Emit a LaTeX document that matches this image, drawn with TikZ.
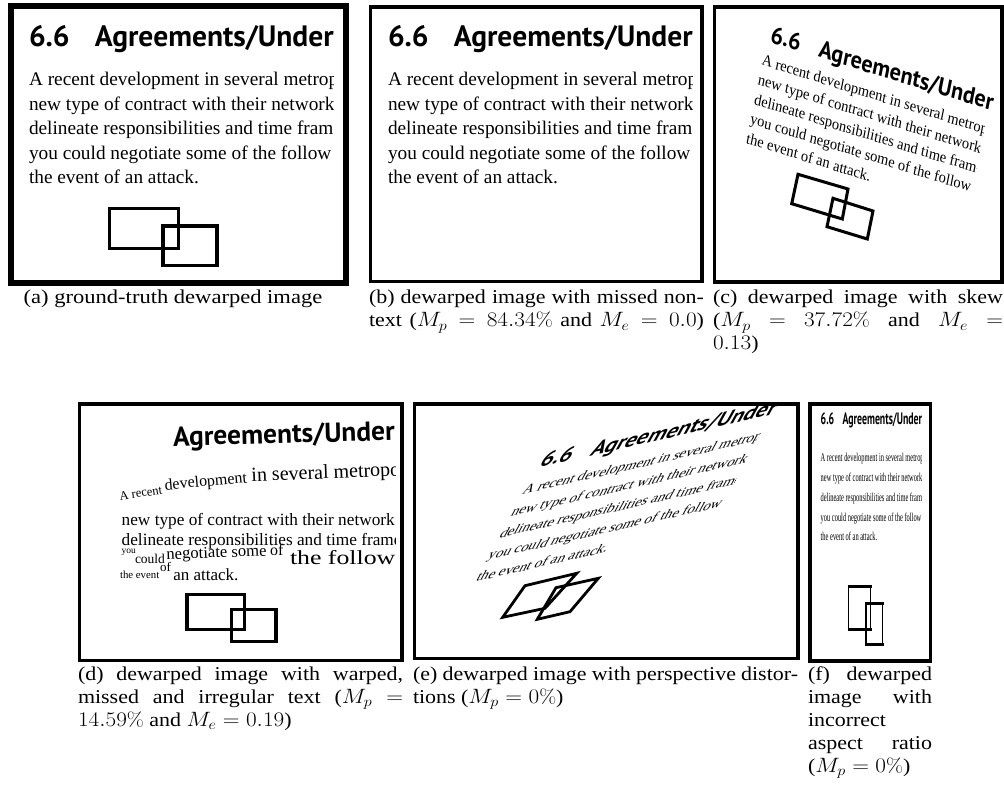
\documentclass[tikz,border=0pt]{standalone}
\usepackage{fontspec}
\newfontfamily\titlefont{PT Sans}
\newfontfamily\capfont{Liberation Serif}
\newfontfamily\bodyfont{Liberation Serif}
\newcommand\ttl{\titlefont\bfseries\fontsize{29.5}{32}\selectfont}
\newcommand\bdy{\bodyfont\fontsize{19.3}{22}\selectfont}
\newcommand\dbdy{\bodyfont\fontsize{17.25}{20}\selectfont}
\newcommand\dsz[1]{\bodyfont\fontsize{#1}{#1}\selectfont}
\newcommand\titleline{\makebox[66pt][l]{6.6}Agreements/Under}
\newlength\capw
\newcommand\capbox[2]{\setlength\capw{\dimexpr #1pt*100/112\relax}\scalebox{1.12}[1]{\parbox[t]{\capw}{\raggedright #2}}}
\newcommand\capln[1]{\makebox[\capw][s]{#1}}
\newcommand\bodylines[1]{%
  \node[txt] (#1l1) at (29,86) {\bdy A recent development in several metropo};
  \node[txt] (#1l2) at (29,110.5) {\bdy new type of contract with their network};
  \node[txt] (#1l3) at (29,135) {\bdy delineate responsibilities and time frame};
  \node[txt] (#1l4) at (29,159.5) {\bdy you could negotiate some of the follow};
  \node[txt] (#1l5) at (29,184) {\bdy the event of an attack.};}
\newcommand\eline[4]{%
  \begin{scope}[shift={(#2,#3)}, cm={0.77,0.175,0.40,0.72,(0,0)}, transform shape]
    \clip (-5,-30) rectangle (304,10);
    \node[txt] (#1) at (0,0) {\bdy #4};
  \end{scope}}
\newcommand\fline[3]{\node[txt] (#1) at (820.7,#2) {\scalebox{0.333}[0.62]{\bdy #3}};}
\tikzset{
  txt/.style={inner sep=0pt, outer sep=0pt, anchor=base west},
  pframe/.style={draw=black, line width=3.5pt},
  shp/.style={draw=black, line width=3.2pt, line join=miter},
  capnode/.style={inner sep=0pt, outer sep=0pt, anchor=base west, font=\capfont\fontsize{19.6}{23}\selectfont}
}
\begin{document}
\begin{tikzpicture}[x=1pt,y=-1pt]
\useasboundingbox (0,0) rectangle (1004,786);
\fill[white] (0,0) rectangle (1004,786);

% ---------- (a)
\draw[line width=6pt] (10.5,5.7) rectangle (345.8,283.5);
\node[txt] (at) at (29,47) {\ttl\titleline};
\begin{scope}
  \clip (15,60) rectangle (333,200);
  \bodylines{a}
\end{scope}
\draw[shp] (109.5,208.7) rectangle (178.7,248.7);
\draw[shp] (163,226) rectangle (217,265.3);

% ---------- (b)
\draw[pframe] (370.3,7) rectangle (702,281.3);
\begin{scope}[shift={(359,0)}]
  \node[txt] (bt) at (29,47) {\ttl\titleline};
  \begin{scope}
    \clip (15,60) rectangle (333,200);
    \bodylines{b}
  \end{scope}
\end{scope}

% ---------- (c)
\draw[pframe] (714.7,7) rectangle (1002,282);
\begin{scope}[shift={(761.3,65)}, cm={0.7293,-0.2247,0.159,0.8,(0,0)}, shift={(-29,-86)}, transform shape]
  \node[txt] (ct) at (34,56) {\ttl\titleline};
  \begin{scope}
    \clip (15,66) rectangle (333,200);
    \bodylines{c}
  \end{scope}
\end{scope}
\draw[shp, line width=3pt] (798,174.3) -- (848,189) -- (842.3,219) -- (791.7,203.7) -- cycle;
\draw[shp, line width=3pt] (833,198.3) -- (873,211) -- (867.3,239) -- (827,226.7) -- cycle;

% ---------- (d)
\draw[pframe] (79.5,404) rectangle (402,660.3);
\node[txt, rotate=1.5] (dt) at (173.3,446) {\titlefont\bfseries\fontsize{27.4}{30}\selectfont Agreements/Under};
\begin{scope}
  \clip (85,420) rectangle (395,600);
  \node[txt, rotate=8] (d1a) at (120,500) {\dsz{12.6}A recent};
  \node[txt, rotate=5] (d1b) at (165,490) {\dsz{16}development};
  \node[txt, rotate=2.3] (d1c) at (251.7,481.7) {\dsz{20}in several metropo};
  \node[txt] (d2) at (121.7,525) {\dbdy new type of contract with their network};
  \node[txt] (d3) at (121.7,545.7) {\dbdy delineate responsibilities and time frame};
  \node[txt] (d4a) at (121.7,553.3) {\dsz{9.5}you};
  \node[txt] (d4b) at (135,563.3) {\dsz{13.5}could};
  \node[txt, rotate=2] (d4c) at (166.7,559.3) {\dsz{16.6}negotiate some};
  \node[txt] (d4d) at (270,555) {\dsz{16}of};
  \node[txt] (d4e) at (290,564) {\scalebox{1.29}[1]{\dsz{20}the follow}};
  \node[txt] (d5a) at (120,578.3) {\dsz{10.8}the event};
  \node[txt] (d5b) at (160,571.7) {\dsz{13}of};
  \node[txt] (d5c) at (173.3,580) {\dsz{17}an attack.};
\end{scope}
\draw[shp] (187,594.7) rectangle (244.7,629.3);
\draw[shp] (231.3,609.3) rectangle (276,641.3);

% ---------- (e)
\draw[pframe] (414.7,404) rectangle (798,658.7);
\begin{scope}[shift={(538.3,467.7)}, cm={0.77,0.175,0.40,0.72,(0,0)}, transform shape]
  \node[txt] (et) at (0,0) {\ttl\titleline};
\end{scope}
\eline{e1}{521.7}{494.3}{A recent development in several metropo}
\eline{e2}{510.1}{516.2}{new type of contract with their network}
\eline{e3}{498.5}{538.0}{delineate responsibilities and time frame}
\eline{e4}{486.9}{559.9}{you could negotiate some of the follow}
\eline{e5}{475.3}{581.7}{the event of an attack.}
\draw[shp, line width=2.8pt] (525,585.7) -- (576.7,573.3) -- (545,608.3) -- (502.7,617.3) -- cycle;
\draw[shp, line width=2.8pt] (556,587.7) -- (598.3,578.3) -- (570,611.7) -- (537.3,619.3) -- cycle;

% ---------- (f)
\draw[pframe] (810,404) rectangle (930.3,661);
\node[txt] (ft) at (820.7,424) {\scalebox{0.333}[0.56]{\ttl\titleline}};
\begin{scope}
  \clip (812,430) rectangle (921.7,560);
  \fline{f1}{461}{A recent development in several metropo}
  \fline{f2}{481}{new type of contract with their network}
  \fline{f3}{501}{delineate responsibilities and time frame}
  \fline{f4}{521}{you could negotiate some of the follow}
  \fline{f5}{540}{the event of an attack.}
\end{scope}
\draw[line width=1.5pt] (848.5,586.7) rectangle (870.7,629.2);
\draw[line width=3.2pt] (847.7,586.7) -- (871.5,586.7) (847.7,629.2) -- (871.5,629.2);
\draw[line width=1.5pt] (865.8,603.8) rectangle (882.7,644.7);
\draw[line width=3.2pt] (865,603.8) -- (883.5,603.8) (865,644.7) -- (883.5,644.7);

% ---------- captions
\node[capnode, anchor=base] (capa) at (173,304) {\scalebox{1.15}[1]{(a) ground-truth dewarped image}};
\node[capnode] (capb) at (369,304) {\capbox{335}{\capln{(b) dewarped image with missed non-}\\\capln{text ($M_p = 84.34\%$ and $M_e = 0.0$)}}};
\node[capnode] (capc) at (713,304) {\capbox{290}{\capln{(c) dewarped image with skew}\\\capln{($M_p$ $=$ $37.72\%$ and $M_e$ $=$}\\$0.13$)}};
\node[capnode] (capd) at (78,680) {\capbox{325}{\capln{(d) dewarped image with warped,}\\\capln{missed and irregular text ($M_p$ $=$}\\$14.59\%$ and $M_e = 0.19$)}};
\node[capnode] (cape) at (413,680) {\capbox{385}{\capln{(e) dewarped image with perspective distor-}\\tions ($M_p = 0\%$)}};
\node[capnode] (capf) at (808,680) {\capbox{124}{\capln{(f) dewarped}\\\capln{image with}\\incorrect\\\capln{aspect ratio}\\($M_p = 0\%$)}};
\end{tikzpicture}
\end{document}
